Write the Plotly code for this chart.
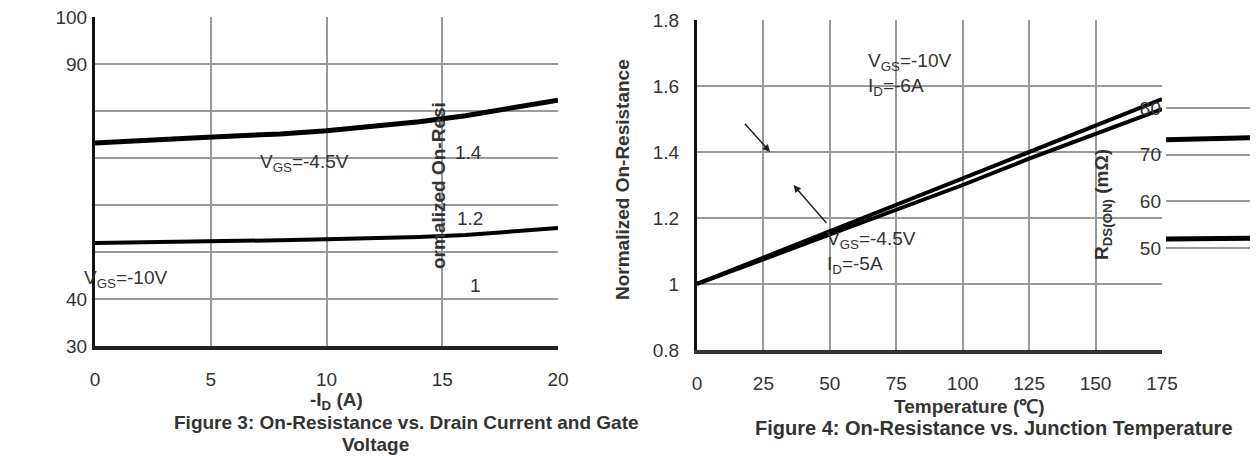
import plotly.graph_objects as go

# Figure 3 data
id_a = [0, 2, 4, 6, 8, 10, 12, 14, 16, 18, 20]
rds_45 = [73.2, 73.6, 74.2, 74.7, 75.1, 75.8, 76.7, 77.7, 79.0, 80.6, 82.3]
rds_10 = [51.9, 52.0, 52.2, 52.3, 52.5, 52.7, 52.9, 53.2, 53.6, 54.3, 55.1]
fig3_yticks = [30, 40, 50, 60, 70, 80, 90, 100]
fig3_yticktext = ["30", "40", "", "", "", "", "90", "100"]
fig3_xticks = [0, 5, 10, 15, 20]

# Figure 4 data
temp_c = [0, 25, 50, 75, 100, 125, 150, 175]
norm_10 = [1.00, 1.08, 1.16, 1.24, 1.32, 1.40, 1.48, 1.56]
norm_45 = [1.00, 1.075, 1.15, 1.225, 1.30, 1.38, 1.455, 1.53]
fig4_yticks = [0.8, 1.0, 1.2, 1.4, 1.6, 1.8]
fig4_yticktext = ["0.8", "1", "1.2", "1.4", "1.6", "1.8"]
fig4_xticks = [0, 25, 50, 75, 100, 125, 150, 175]

# Right-hand RDS(ON) axis fragment
frag_yticks = [50, 60, 70, 80]

# page has an 8px body margin, so the figure is 8px smaller on each axis
OFF = 8
W, H = 1258 - OFF, 456 - OFF
def px(x):
    return (x - OFF) / W
def py(y):
    return 1 - (y - OFF) / H

FONT = "Liberation Sans, Arial, sans-serif"
GRID = "#9a9a9a"
TXT = "#333333"

fig = go.Figure()
fig.add_trace(go.Scatter(x=id_a, y=rds_45, mode="lines", line=dict(color="black", width=5),
                         xaxis="x", yaxis="y", showlegend=False))
fig.add_trace(go.Scatter(x=id_a, y=rds_10, mode="lines", line=dict(color="black", width=4),
                         xaxis="x", yaxis="y", showlegend=False))
fig.add_trace(go.Scatter(x=temp_c, y=norm_10, mode="lines", line=dict(color="black", width=4),
                         xaxis="x2", yaxis="y2", showlegend=False))
fig.add_trace(go.Scatter(x=temp_c, y=norm_45, mode="lines", line=dict(color="black", width=4),
                         xaxis="x2", yaxis="y2", showlegend=False))
fig.add_trace(go.Scatter(x=id_a, y=rds_45, mode="lines", line=dict(color="black", width=5),
                         xaxis="x3", yaxis="y3", showlegend=False))
fig.add_trace(go.Scatter(x=id_a, y=rds_10, mode="lines", line=dict(color="black", width=5),
                         xaxis="x3", yaxis="y3", showlegend=False))

tickfont = dict(family=FONT, size=19, color=TXT)
common_ax = dict(showgrid=True, gridcolor=GRID, gridwidth=2, zeroline=False,
                 showline=True, mirror=False,
                 ticks="", tickfont=tickfont, automargin=False,
                 ticklabeloverflow="allow")

fig.update_layout(
    width=W, height=H,
    margin=dict(l=0, r=0, t=0, b=0),
    paper_bgcolor="white", plot_bgcolor="white",
    template="none",
    xaxis=dict(domain=[px(95), px(558)], range=[0, 20], tickvals=fig3_xticks,
               anchor="y", ticklabelstandoff=13, linecolor="#222", linewidth=4, **common_ax),
    yaxis=dict(domain=[py(346), py(17)], range=[30, 100], tickvals=fig3_yticks,
               ticktext=fig3_yticktext, anchor="x", ticklabelstandoff=1,
               linecolor="#111", linewidth=3, **common_ax),
    xaxis2=dict(domain=[px(697), px(1162)], range=[0, 175], tickvals=fig4_xticks,
                anchor="y2", ticklabelstandoff=13, linecolor="#333", linewidth=4, **common_ax),
    yaxis2=dict(domain=[py(350), py(20)], range=[0.8, 1.8], tickvals=fig4_yticks,
                ticktext=fig4_yticktext, anchor="x2", ticklabelstandoff=11,
                linecolor="#111", linewidth=3, **common_ax),
    xaxis3=dict(domain=[px(1166), 1.0], range=[0, 2], showticklabels=False,
                showgrid=False, zeroline=False, showline=False, anchor="y3"),
    yaxis3=dict(domain=[py(341), py(15)], range=[30, 100], tickvals=frag_yticks,
                showgrid=True, gridcolor=GRID, gridwidth=2, zeroline=False,
                showline=False, tickfont=tickfont, anchor="x3", automargin=False,
                ticklabelstandoff=4),
)

ann_font = dict(family=FONT, size=19, color=TXT)
bold_font = dict(family=FONT, size=19, color=TXT)
cap_font = dict(family=FONT, size=20, color=TXT)
annotations = [
    dict(x=px(258), y=py(163), xref="paper", yref="paper", text="V<sub>GS</sub>=-4.5V",
         showarrow=False, font=ann_font, xanchor="left", yanchor="middle"),
    dict(x=px(82), y=py(279), xref="paper", yref="paper", text="V<sub>GS</sub>=-10V",
         showarrow=False, font=ann_font, xanchor="left", yanchor="middle"),
    dict(x=px(336), y=py(401), xref="paper", yref="paper", text="<b>-I<sub>D</sub> (A)</b>",
         showarrow=False, font=bold_font, xanchor="center", yanchor="middle"),
    dict(x=px(406), y=py(422), xref="paper", yref="paper",
         text="<b>Figure 3: On-Resistance vs. Drain Current and Gate</b>",
         showarrow=False, font=bold_font, xanchor="center", yanchor="middle"),
    dict(x=px(375), y=py(444), xref="paper", yref="paper", text="<b>Voltage</b>",
         showarrow=False, font=bold_font, xanchor="center", yanchor="middle"),
    dict(x=px(969), y=py(406), xref="paper", yref="paper", text="<b>Temperature (℃)</b>",
         showarrow=False, font=bold_font, xanchor="center", yanchor="middle"),
    dict(x=px(994), y=py(428), xref="paper", yref="paper",
         text="<b>Figure 4: On-Resistance vs. Junction Temperature</b>",
         showarrow=False, font=cap_font, xanchor="center", yanchor="middle"),
    dict(x=px(622), y=py(180), xref="paper", yref="paper",
         text="<b>Normalized On-Resistance</b>", textangle=-90,
         showarrow=False, font=bold_font, xanchor="center", yanchor="middle"),
    dict(x=px(438), y=py(185), xref="paper", yref="paper",
         text="<b>ormalized On-Resi</b>", textangle=-90,
         showarrow=False, font=bold_font, xanchor="center", yanchor="middle"),
    dict(x=px(468), y=py(152), xref="paper", yref="paper", text="1.4",
         showarrow=False, font=tickfont, xanchor="center", yanchor="middle"),
    dict(x=px(470), y=py(218), xref="paper", yref="paper", text="1.2",
         showarrow=False, font=tickfont, xanchor="center", yanchor="middle"),
    dict(x=px(475), y=py(285), xref="paper", yref="paper", text="1",
         showarrow=False, font=tickfont, xanchor="center", yanchor="middle"),
    dict(x=px(1103), y=py(205), xref="paper", yref="paper",
         text="<b>R<sub>DS(ON)</sub> (mΩ)</b>", textangle=-90,
         showarrow=False, font=bold_font, xanchor="center", yanchor="middle"),
    dict(x=63.5, y=1.634, xref="x2", yref="y2",
         text="V<sub>GS</sub>=-10V<br>I<sub>D</sub>=-6A",
         showarrow=False, font=ann_font, align="left", xanchor="left", yanchor="middle"),
    dict(x=27.5, y=1.40, xref="x2", yref="y2", ax=17.5, ay=1.49, axref="x2", ayref="y2",
         text="", showarrow=True, arrowhead=2, arrowwidth=1.5, arrowcolor="#222"),
    dict(x=48.2, y=1.095, xref="x2", yref="y2",
         text="V<sub>GS</sub>=-4.5V<br>I<sub>D</sub>=-5A",
         showarrow=False, font=ann_font, align="left", xanchor="left", yanchor="middle"),
    dict(x=36.3, y=1.30, xref="x2", yref="y2", ax=49.2, ay=1.18, axref="x2", ayref="y2",
         text="", showarrow=True, arrowhead=2, arrowwidth=1.5, arrowcolor="#222"),
]
fig.update_layout(annotations=annotations)

fig.write_html("out.html")
